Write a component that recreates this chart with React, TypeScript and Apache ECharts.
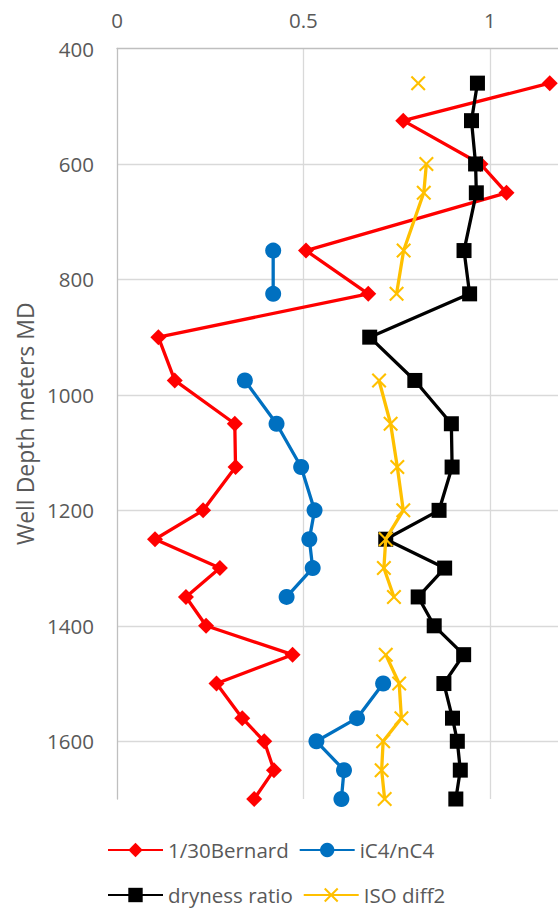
import React, { useEffect, useRef } from "react";
import * as echarts from "echarts";

const depths = [460, 525, 600, 650, 750, 825, 900, 975, 1050, 1125, 1200, 1250, 1300, 1350, 1400, 1450, 1500, 1560, 1600, 1650, 1700];
const bernard = [1.161, 0.768, 0.975, 1.045, 0.507, 0.674, 0.111, 0.155, 0.316, 0.318, 0.231, 0.102, 0.276, 0.185, 0.239, 0.471, 0.267, 0.336, 0.395, 0.421, 0.368];
const ic4nc4 = [null, null, null, null, 0.419, 0.419, null, 0.343, 0.428, 0.494, 0.53, 0.516, 0.525, 0.455, null, null, 0.714, 0.644, 0.535, 0.609, 0.602];
const dryness = [0.967, 0.951, 0.962, 0.964, 0.931, 0.946, 0.678, 0.799, 0.897, 0.899, 0.864, 0.721, 0.879, 0.808, 0.851, 0.93, 0.877, 0.9, 0.913, 0.921, 0.909];
const isoDiff2 = [0.808, null, 0.83, 0.823, 0.769, 0.75, null, 0.703, 0.734, 0.752, 0.768, 0.721, 0.716, 0.743, null, 0.721, 0.757, 0.763, 0.714, 0.71, 0.718];

const seriesNames = ["1/30Bernard", "iC4/nC4", "dryness ratio", "ISO diff2"];
const xTicks = { min: 0, max: 1.2, interval: 0.5 };
const yTicks = { min: 400, max: 1700, interval: 200 };
const yTitle = "Well Depth meters MD";

const FONT = "'Open Sans', sans-serif";
const TEXT = "#595959";
const CROSS = "path://M0,10 L10,0 L50,40 L90,0 L100,10 L60,50 L100,90 L90,100 L50,60 L10,100 L0,90 L40,50 Z";

function toData(vals: (number | null)[]) {
  return depths.map((d, i) => [vals[i] === null ? "-" : vals[i], d]);
}

export default function App() {
  const ref = useRef<HTMLDivElement>(null);
  useEffect(() => {
    if (!ref.current) return;
    const chart = echarts.init(ref.current, undefined, { renderer: "svg" });
    const mk = (name: string, vals: (number | null)[], color: string, symbol: string, size: number, z: number) => ({
      name,
      type: "line",
      data: toData(vals),
      symbol,
      symbolSize: size,
      z,
      lineStyle: { color, width: 3.3 },
      itemStyle: { color },
      connectNulls: false,
    });
    const legendBase = {
      left: 107,
      padding: 0,
      itemWidth: 55,
      itemHeight: 18,
      itemGap: 10,
      textStyle: { color: TEXT, fontSize: 20.5, fontFamily: FONT, lineHeight: 22 },
    };
    chart.setOption({
      animation: false,
      backgroundColor: "#ffffff",
      textStyle: { fontFamily: FONT },
      grid: { left: 117, top: 48.5, width: 447.3, height: 750.5, outerBoundsMode: "none", containLabel: false },
      xAxis: {
        type: "value",
        position: "top",
        min: xTicks.min,
        max: xTicks.max,
        interval: xTicks.interval,
        axisLine: { show: true, onZero: false, lineStyle: { color: "#bfbfbf", width: 1.3 } },
        axisTick: { show: false },
        axisLabel: { color: TEXT, fontSize: 20.5, fontFamily: FONT, margin: 18, showMaxLabel: false },
        splitLine: { show: true, showMinLine: false, showMaxLine: false, lineStyle: { color: "#d9d9d9", width: 1.3 } },
      },
      yAxis: {
        type: "value",
        inverse: true,
        min: yTicks.min,
        max: yTicks.max,
        interval: yTicks.interval,
        name: yTitle,
        nameLocation: "middle",
        nameGap: 78,
        nameTextStyle: { color: TEXT, fontSize: 23, fontFamily: FONT },
        axisLine: { show: true, onZero: false, lineStyle: { color: "#bfbfbf", width: 1.3 } },
        axisTick: { show: false },
        axisLabel: {
          color: TEXT,
          fontSize: 20.5,
          fontFamily: FONT,
          margin: 23,
          showMaxLabel: false,
          formatter: (v: number) => String(v),
        },
        splitLine: { show: true, showMinLine: false, showMaxLine: false, lineStyle: { color: "#d9d9d9", width: 1.3 } },
      },
      legend: [
        { ...legendBase, data: [seriesNames[0], seriesNames[1]], top: 839 },
        { ...legendBase, data: [seriesNames[2], seriesNames[3]], top: 884 },
      ],
      series: [
        mk(seriesNames[0], bernard, "#ff0000", "diamond", 16, 2),
        mk(seriesNames[1], ic4nc4, "#0070c0", "circle", 16, 3),
        mk(seriesNames[2], dryness, "#000000", "rect", 15, 4),
        mk(seriesNames[3], isoDiff2, "#ffc000", CROSS, 15, 5),
      ],
    });
    return () => chart.dispose();
  }, []);
  return <div ref={ref} style={{ position: "absolute", left: 0, top: 0, width: 558, height: 908 }} />;
}
